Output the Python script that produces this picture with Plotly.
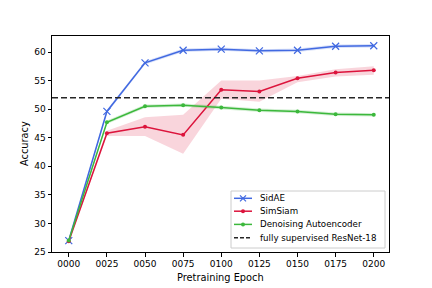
import plotly.graph_objects as go

epochs = ["0000", "0025", "0050", "0075", "0100", "0125", "0150", "0175", "0200"]
sidae = [27.0, 49.6, 58.1, 60.3, 60.5, 60.2, 60.3, 61.0, 61.1]
sidae_lo = [26.8, 49.3, 57.8, 60.0, 60.2, 59.9, 60.0, 60.7, 60.8]
sidae_hi = [27.2, 49.9, 58.4, 60.6, 60.8, 60.5, 60.6, 61.3, 61.4]
simsiam = [26.9, 45.8, 46.9, 45.5, 53.4, 53.1, 55.4, 56.4, 56.8]
simsiam_lo = [26.7, 45.3, 45.3, 42.2, 51.8, 51.3, 54.7, 55.7, 56.0]
simsiam_hi = [27.1, 46.2, 48.6, 49.0, 55.0, 55.0, 55.8, 57.0, 57.5]
dae = [27.0, 47.7, 50.5, 50.7, 50.3, 49.8, 49.6, 49.1, 49.0]
dae_lo = [26.8, 47.4, 50.2, 50.4, 50.0, 49.5, 49.3, 48.8, 48.7]
dae_hi = [27.2, 48.0, 50.8, 51.0, 50.6, 50.1, 49.9, 49.4, 49.3]
baseline = 52.0
legend_names = ["SidAE", "SimSiam", "Denoising Autoencoder", "fully supervised ResNet-18"]
colors = ["#4169E1", "#DC143C", "#3CB83C", "#262626"]
x_title = "Pretraining Epoch"
y_title = "Accuracy"

x = list(range(len(epochs)))
fig = go.Figure()

def band(lo, hi, color):
    fig.add_trace(go.Scatter(x=x + x[::-1], y=hi + lo[::-1], fill="toself",
                             fillcolor=color, line=dict(width=0), hoverinfo="skip",
                             showlegend=False, mode="lines"))

band(sidae_lo, sidae_hi, "rgba(65,105,225,0.2)")
band(simsiam_lo, simsiam_hi, "rgba(220,20,60,0.18)")
band(dae_lo, dae_hi, "rgba(50,180,50,0.2)")

fig.add_trace(go.Scatter(x=x, y=sidae, mode="lines+markers", name=legend_names[0],
                         line=dict(color=colors[0], width=1.5),
                         marker=dict(symbol="x-thin", size=7, line=dict(color=colors[0], width=1.2))))
fig.add_trace(go.Scatter(x=x, y=simsiam, mode="lines+markers", name=legend_names[1],
                         line=dict(color=colors[1], width=1.5),
                         marker=dict(symbol="circle", size=4, color=colors[1])))
fig.add_trace(go.Scatter(x=x, y=dae, mode="lines+markers", name=legend_names[2],
                         line=dict(color=colors[2], width=1.5),
                         marker=dict(symbol="circle", size=4, color=colors[2])))
fig.add_trace(go.Scatter(x=[-0.44, 8.4], y=[baseline, baseline], mode="lines",
                         name=legend_names[3],
                         line=dict(color=colors[3], width=1.5, dash="6px,3px")))

# compact legend box (drawn as layout decorations in paper coordinates)
L, R, T, B = 52, 389, 36, 252
def px(v):
    return (v - L) / (R - L)
def py(v):
    return (B - v) / (B - T)

shapes = [dict(type="rect", xref="paper", yref="paper",
               x0=px(231), x1=px(385), y0=py(248), y1=py(191),
               line=dict(color="#cccccc", width=1), fillcolor="rgba(255,255,255,0.8)", layer="above")]
annotations = []
row_y = [198.3, 211.2, 224.4, 237.7]
for i, name in enumerate(legend_names):
    yy = py(row_y[i])
    dash = "4px,2px" if i == 3 else "solid"
    shapes.append(dict(type="line", xref="paper", yref="paper",
                       x0=px(234), x1=px(252), y0=yy, y1=yy,
                       line=dict(color=colors[i], width=1.5, dash=dash), layer="above"))
    annotations.append(dict(text=name, xref="paper", yref="paper", x=px(258), y=yy,
                            xanchor="left", yanchor="middle", showarrow=False,
                            font=dict(size=8.7, color="black")))
mx = px(243)
my0 = py(row_y[0])
shapes.append(dict(type="line", xref="paper", yref="paper", x0=mx - 3/337, x1=mx + 3/337,
                   y0=my0 - 3/216, y1=my0 + 3/216, line=dict(color=colors[0], width=1.2), layer="above"))
shapes.append(dict(type="line", xref="paper", yref="paper", x0=mx - 3/337, x1=mx + 3/337,
                   y0=my0 + 3/216, y1=my0 - 3/216, line=dict(color=colors[0], width=1.2), layer="above"))
for i in (1, 2):
    yy = py(row_y[i])
    shapes.append(dict(type="circle", xref="paper", yref="paper",
                       x0=mx - 2/337, x1=mx + 2/337, y0=yy - 2/216, y1=yy + 2/216,
                       fillcolor=colors[i], line=dict(width=0), layer="above"))

# axis titles
annotations.append(dict(text=x_title, xref="paper", yref="paper", x=px(220), y=py(277.5),
                        xanchor="center", yanchor="middle", showarrow=False,
                        font=dict(size=9.8, color="black")))
annotations.append(dict(text=y_title, xref="paper", yref="paper", x=px(24), y=py(144),
                        xanchor="center", yanchor="middle", showarrow=False, textangle=-90,
                        font=dict(size=9.8, color="black")))

fig.update_layout(
    width=432, height=288,
    margin=dict(l=L, r=432 - R, t=T, b=288 - B, autoexpand=False),
    paper_bgcolor="white", plot_bgcolor="white",
    font=dict(family="DejaVu Sans", size=9, color="black"),
    showlegend=False,
    shapes=shapes, annotations=annotations,
)
fig.update_xaxes(range=[-0.44, 8.4], tickvals=x, ticktext=epochs, automargin=False,
                 showgrid=False, zeroline=False, showline=True, linecolor="black",
                 linewidth=1, mirror=True, ticks="outside", ticklen=3.5,
                 tickcolor="black")
fig.update_yaxes(range=[25, 62.8], tickvals=[25, 30, 35, 40, 45, 50, 55, 60], automargin=False,
                 showgrid=False, zeroline=False, showline=True, linecolor="black",
                 linewidth=1, mirror=True, ticks="outside", ticklen=3.5,
                 tickcolor="black")

fig.write_html("out.html", config={"displayModeBar": False},
               post_script="document.body.style.margin='0';document.body.style.padding='0';document.body.style.overflow='hidden';")
